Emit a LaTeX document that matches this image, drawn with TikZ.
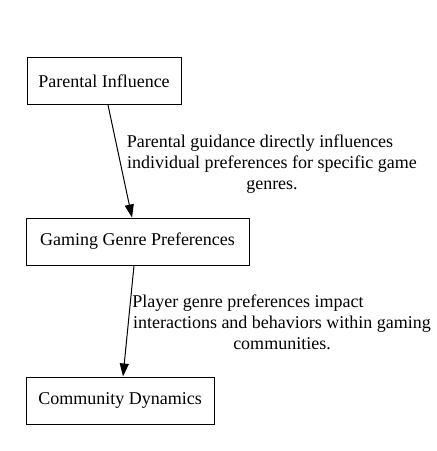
\documentclass[tikz,border=0pt]{standalone}
\usepackage{fontspec}
\setmainfont{Liberation Serif}
\usetikzlibrary{arrows.meta}
\tikzset{
  box/.style={draw, line width=1pt, inner sep=0pt, minimum height=47pt, font=\fontsize{18}{21}\selectfont},
  lbl/.style={align=center, inner sep=0pt, font=\fontsize{18}{21}\selectfont},
  conn/.style={line width=1pt, -{Triangle[length=13pt,width=9pt]}}
}
\begin{document}
\begin{tikzpicture}[x=1pt,y=-1pt]
\useasboundingbox (0,0) rectangle (437,451);
\node[box, minimum width=154pt] (pi) at (104,81) {Parental Influence};
\node[box, minimum width=223pt] (gg) at (137.5,241.5) {Gaming Genre Preferences};
\node[box, minimum width=188pt] (cd) at (120,400.5) {Community Dynamics};
\draw[conn] ([xshift=4pt]pi.south) -- ([xshift=-5.5pt]gg.north);
\draw[conn] ([xshift=-3.5pt]gg.south) -- ([xshift=3pt]cd.north);
\node[lbl] (l1) at (272,164) {Parental guidance directly influences\hspace*{24pt}\\individual preferences for specific game\\genres.};
\node[lbl] (l2) at (282,322) {Player genre preferences impact\hspace*{68pt}\\interactions and behaviors within gaming\\communities.};
\end{tikzpicture}
\end{document}
